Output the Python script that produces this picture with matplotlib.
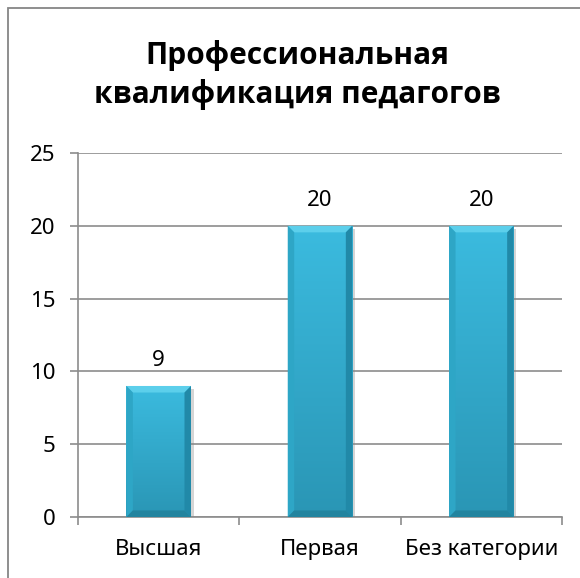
import numpy as np
import matplotlib
matplotlib.use('Agg')
import matplotlib.pyplot as plt
from matplotlib.patches import Polygon, Rectangle
import matplotlib.patheffects as pe

# data
categories = ['Высшая', 'Первая', 'Без категории']
values = [9, 20, 20]
yticks = [0, 5, 10, 15, 20, 25]
title = 'Профессиональная\nквалификация педагогов'

plt.rcParams['font.family'] = ['Noto Sans', 'DejaVu Sans']

fig = plt.figure(figsize=(5.8, 5.78), dpi=100)
ax = fig.add_axes([0.1345, 0.1055, 0.8345, 0.6298])

x = np.arange(len(categories))
bars = ax.bar(x, values, width=0.4, color='#32afd2', edgecolor='none', zorder=3)
ax.set_xlim(-0.5, len(categories) - 0.5)
ax.set_ylim(yticks[0], yticks[-1])

#Bevel look of the bars
bx, by = 0.04, 0.45
grad = np.linspace(0, 1, 100).reshape(-1, 1)
cmap = matplotlib.colors.LinearSegmentedColormap.from_list('b', ['#2a96b5', '#3bbbdf'])
for b in bars:
    x0, w, h = b.get_x(), b.get_width(), b.get_height()
    b.set_path_effects([pe.SimplePatchShadow(offset=(2, -2), shadow_rgbFace='#888888', alpha=0.35), pe.Normal()])
    im = ax.imshow(grad, extent=[x0, x0 + w, 0, h], origin='lower', cmap=cmap, aspect='auto', zorder=3.1)
    im.set_clip_path(b)
    ax.add_patch(Polygon([(x0, h), (x0 + w, h), (x0 + w - bx, h - by), (x0 + bx, h - by)],
                         closed=True, facecolor='#5ccfeb', edgecolor='none', zorder=3.2))
    ax.add_patch(Polygon([(x0, 0), (x0, h), (x0 + bx, h - by), (x0 + bx, by)],
                         closed=True, facecolor='#2ea6c6', edgecolor='none', zorder=3.2))
    ax.add_patch(Polygon([(x0 + w, 0), (x0 + w, h), (x0 + w - bx, h - by), (x0 + w - bx, by)],
                         closed=True, facecolor='#2189a8', edgecolor='none', zorder=3.2))
    ax.add_patch(Polygon([(x0, 0), (x0 + w, 0), (x0 + w - bx, by), (x0 + bx, by)],
                         closed=True, facecolor='#22849f', edgecolor='none', zorder=3.2))

for xi, v in zip(x, values):
    ax.text(xi, v + 1.0, str(v), ha='center', va='bottom', fontsize=16, color='#000000')

ax.set_yticks(yticks)
ax.set_xticks(x)
ax.set_xticklabels(categories)
ax.set_xticks(np.arange(len(categories) + 1) - 0.5, minor=True)
ax.tick_params(axis='x', which='major', length=0, pad=16, labelsize=16)
ax.tick_params(axis='x', which='minor', length=6, color='#8c8c8c', width=1.2)
ax.tick_params(axis='y', length=6, color='#8c8c8c', width=1.2, labelsize=16, pad=10)
ax.yaxis.grid(True, color='#8c8c8c', linewidth=1.2, zorder=0)
ax.set_axisbelow(True)
for s in ['top', 'right']:
    ax.spines[s].set_visible(False)
for s in ['left', 'bottom']:
    ax.spines[s].set_color('#8c8c8c')
    ax.spines[s].set_linewidth(1.2)

fig.text(0.513, 1 - 75 / 578, title, ha='center', va='center', fontsize=21.5,
         fontweight='bold', linespacing=1.35, family=['Open Sans', 'DejaVu Sans'])

#outer chart frame (right and bottom cut off)
fig.add_artist(Rectangle((8 / 580, -0.1), 1.2, 1.1 - 8 / 578, transform=fig.transFigure,
                         fill=False, edgecolor='#868686', linewidth=1.3))

fig.savefig('out.png', dpi=100)
